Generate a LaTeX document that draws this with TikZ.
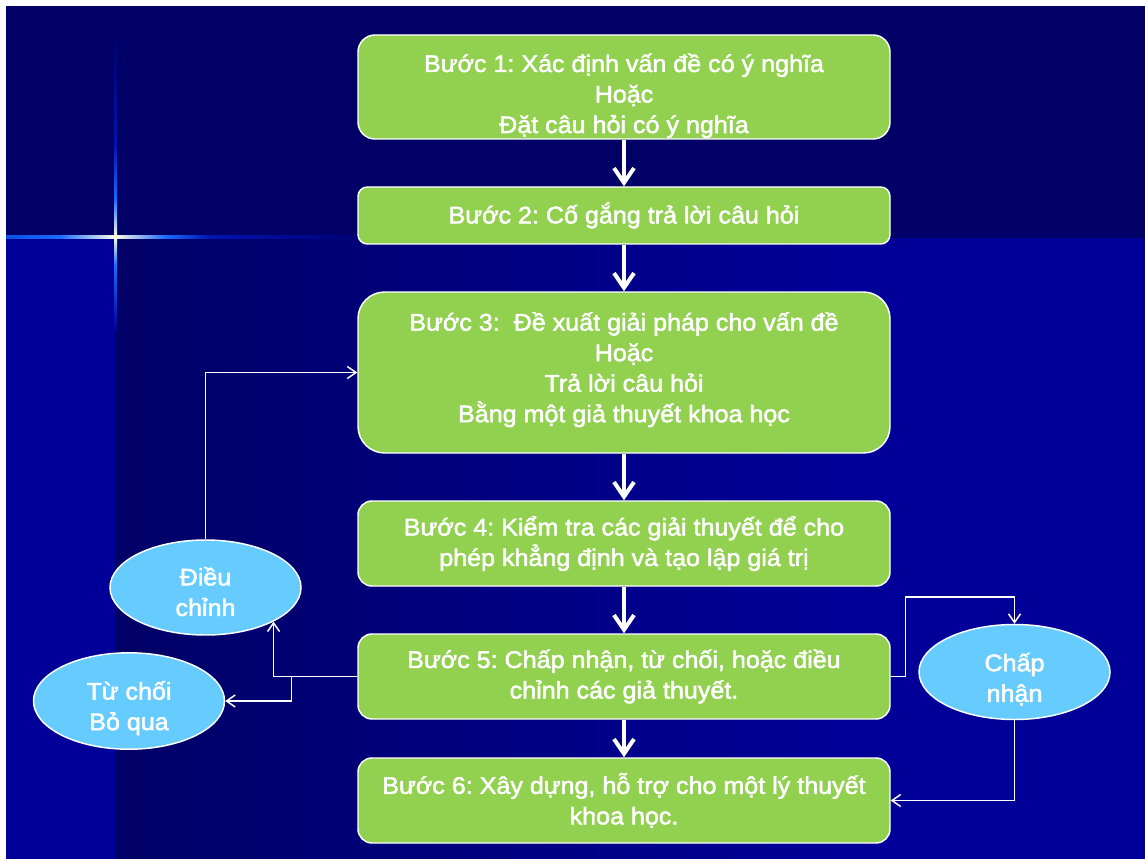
\documentclass[tikz,border=0pt]{standalone}
\usepackage{fontspec}
\setmainfont{Liberation Sans}
\newfontfamily\labelface{Liberation Sans}[FakeBold=2,FakeStretch=1.045]
\usetikzlibrary{shapes.geometric,arrows.meta}
\frenchspacing

\definecolor{navybg}{RGB}{0,0,102}
\definecolor{bluebg}{RGB}{0,0,153}
\definecolor{stepgreen}{RGB}{146,208,80}
\definecolor{ovalblue}{RGB}{102,204,255}
\definecolor{flareblue}{RGB}{30,107,255}
\definecolor{flarecore}{RGB}{255,255,230}
\definecolor{flaredim}{RGB}{0,20,175}
\definecolor{flaremid}{RGB}{10,80,225}

\begin{document}
\begin{tikzpicture}[x=0.75pt,y=-0.75pt,
  labelfont/.style={font=\labelface\fontsize{18pt}{22.9pt}\selectfont},
  stepbox/.style={draw=white, line width=1.1pt, fill=stepgreen, text=white,
    align=center, labelfont, minimum width=399pt, inner sep=0pt},
  oval/.style={ellipse, draw=white, line width=1.1pt, fill=ovalblue, text=white,
    align=center, labelfont, minimum width=143.25pt, minimum height=71.25pt, inner sep=0pt},
  flow/.style={draw=white, line width=3pt, -{Straight Barb[length=11pt,width=15pt]}},
  link/.style={draw=white, line width=1.1pt, -{Straight Barb[length=6.5pt,width=9pt]}},
]
% page and background panels
\useasboundingbox (0,0) rectangle (1145,859);
\fill[white] (0,0) rectangle (1145,859);
\fill[navybg] (6,6) rectangle (1145,238);
\fill[bluebg] (6,238) rectangle (115,859);
\shade[left color=navybg, right color=bluebg] (115,238) rectangle (850,859);
\fill[bluebg] (849,238) rectangle (1145,859);

% light flare: horizontal ray
\shade[left color=flaremid, right color=flareblue] (6,235.5) rectangle (60,238.8);
\shade[left color=flareblue, right color=flarecore] (60,235.5) rectangle (115,238.8);
\shade[left color=flarecore, right color=flareblue] (115,235.5) rectangle (165,238.8);
\shade[left color=flareblue, right color=flaredim] (165,235.5) rectangle (210,238.8);
\shade[left color=flaredim, right color=navybg!70!bluebg] (210,235.5) rectangle (358,238.8);
% light flare: vertical ray
\shade[top color=navybg, bottom color=flaredim] (114.2,30) rectangle (117.2,145);
\shade[top color=flaredim, bottom color=flareblue] (114.2,145) rectangle (117.2,200);
\shade[top color=flareblue, bottom color=flarecore] (114.2,200) rectangle (117.2,237);
\shade[top color=flarecore, bottom color=flareblue] (114.2,237) rectangle (117.2,265);
\shade[top color=flareblue, bottom color=bluebg] (114.2,265) rectangle (117.2,330);

% steps
\node[stepbox, minimum height=78pt, rounded corners=12.75pt] (b1) at (624,87)
  {\rule{0pt}{27pt}Bước 1: Xác định vấn đề có ý nghĩa\\Hoặc\\Đặt câu hỏi có ý nghĩa};
\node[stepbox, minimum height=42.75pt, rounded corners=7pt] (b2) at (624,215.5)
  {Bước 2: Cố gắng trả lời câu hỏi};
\node[stepbox, minimum height=120.75pt, rounded corners=20pt] (b3) at (624,372.5)
  {Bước 3:~ Đề xuất giải pháp cho vấn đề\\Hoặc\\Trả lời câu hỏi\\Bằng một giả thuyết khoa học\rule[-8pt]{0pt}{0pt}};
\node[stepbox, minimum height=63.75pt, rounded corners=10.5pt] (b4) at (624,543.5)
  {Bước 4: Kiểm tra các giải thuyết để cho\\phép khẳng định và tạo lập giá trị};
\node[stepbox, minimum height=63.75pt, rounded corners=10.5pt] (b5) at (624,676.5)
  {Bước 5: Chấp nhận, từ chối, hoặc điều\\chỉnh các giả thuyết.};
\node[stepbox, minimum height=63.75pt, rounded corners=10.5pt] (b6) at (624,800.5)
  {Bước 6: Xây dựng, hỗ trợ cho một lý thuyết\\khoa học.};

% outcomes
\node[oval] (adjust) at (205.5,587.5) {\rule{0pt}{20pt}Điều\\chỉnh};
\node[oval] (reject) at (129,701) {\rule{0pt}{24.5pt}Từ chối\\Bỏ qua};
\node[oval] (accept) at (1014.5,672) {\rule{0pt}{24.5pt}Chấp\\nhận};

% main flow
\draw[flow] (b1.south) -- (b2.north);
\draw[flow] (b2.south) -- (b3.north);
\draw[flow] (b3.south) -- (b4.north);
\draw[flow] (b4.south) -- (b5.north);
\draw[flow] (b5.south) -- (b6.north);

% feedback links
\draw[link] (adjust.north) |- (b3.west);
\draw[link] (b5.west) -| (adjust.south east);
\draw[link] ([xshift=-49.5pt]b5.west) |- (reject.east);
\draw[link] (b5.east) -- ++(11.25pt,0) |- ([yshift=20.25pt]accept.north) -- (accept.north);
\draw[link] (accept.south) |- (b6.east);
\end{tikzpicture}
\end{document}
